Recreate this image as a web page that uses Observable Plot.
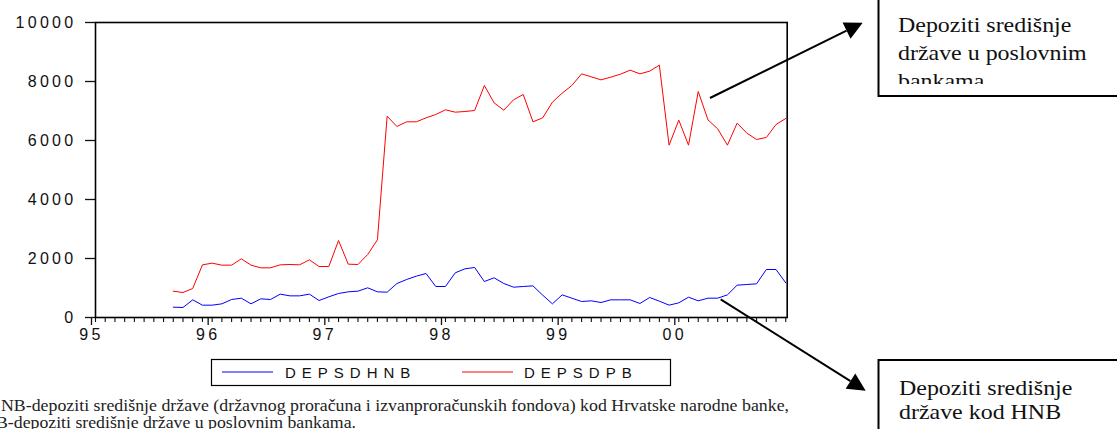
<!DOCTYPE html>
<html>
<head>
<meta charset="utf-8">
<script src="https://cdn.jsdelivr.net/npm/d3@7"></script>
<script src="https://cdn.jsdelivr.net/npm/@observablehq/plot@0.6"></script>
<style>
  html, body { margin: 0; padding: 0; background: #fff; overflow: hidden; }
  #chart svg { display: block; }
</style>
</head>
<body>
<div id="chart"></div>
<script>
// ---- data (monthly, 1995M09 .. 2000M12) ----
const startYear = 1995;
const firstMonth = 9; // September 1995
const DEPSDHNB = [350, 339, 599, 418, 418, 463, 610, 655, 463, 633,
                  610, 791, 734, 734, 791, 576, 701, 814, 870, 893,
                  1006, 870, 859, 1150, 1288, 1401, 1492, 1051, 1051, 1514,
                  1650, 1695, 1220, 1345, 1153, 1028, 1051, 1073, 757, 463,
                  768, 655, 542, 565, 508, 599, 599, 599, 475, 678,
                  554, 418, 497, 689, 565, 655, 655, 768, 1096, 1119,
                  1141, 1627, 1627, 1175];
const DEPSDPB = [893, 847, 983, 1785, 1842, 1774, 1774, 1989, 1774, 1684,
                 1684, 1785, 1797, 1785, 1955, 1729, 1729, 2610, 1808, 1797,
                 2136, 2633, 6825, 6475, 6633, 6633, 6768, 6881, 7040, 6960,
                 6983, 7017, 7864, 7277, 7028, 7379, 7559, 6633, 6768, 7299,
                 7605, 7864, 8260, 8158, 8056, 8147, 8249, 8384, 8260, 8350,
                 8554, 5842, 6689, 5842, 7661, 6701, 6395, 5842, 6588, 6249,
                 6034, 6102, 6542, 6746];
const yearLabels = ["95", "96", "97", "98", "99", "00"];
const yTicks = [0, 2000, 4000, 6000, 8000, 10000];
const seriesNames = ["DEPSDHNB", "DEPSDPB"];
const seriesColors = ["#0000ff", "#ff0000"];
const captionLines = [
  "NB-depoziti središnje države (državnog proračuna i izvanproračunskih fondova) kod Hrvatske narodne banke,",
  "B-depoziti središnje države u poslovnim bankama."
];
const noteTop = ["Depoziti središnje", "države u poslovnim", "bankama"];
const noteBottom = ["Depoziti središnje", "države kod HNB"];

// month index (0 = 1995M01)
const idx0 = firstMonth - 1;
const rows = (arr, name) => arr.map((v, k) => ({t: idx0 + k, v, s: name}));
const dataH = rows(DEPSDHNB, seriesNames[0]);
const dataP = rows(DEPSDPB, seriesNames[1]);
const monthTicks = d3.range(0, 72);
const yearTicks = yearLabels.map((_, i) => i * 12);

const chart = Plot.plot({
  width: 1117,
  height: 429,
  marginLeft: 95,
  marginRight: 330.3,
  marginTop: 22,
  marginBottom: 112,
  x: {domain: [0, 71.15]},
  y: {domain: [0, 10000]},
  style: {fontFamily: "'Liberation Sans', Arial, sans-serif", fontSize: "16px", color: "#111", background: "#fff", overflow: "visible"},
  marks: [
    Plot.axisY({ticks: yTicks, tickSize: 10, tickPadding: 9, tickFormat: d => String(d), label: null, strokeWidth: 1.3}),
    Plot.axisX({ticks: monthTicks, tickSize: 5, tickFormat: () => "", label: null, strokeWidth: 1.1}),
    Plot.axisX({ticks: yearTicks, tickSize: 8, tickPadding: 3, tickFormat: d => yearLabels[Math.round(d / 12)], label: null, dx: -4, strokeWidth: 1.3}),
    Plot.lineY(dataH, {x: "t", y: "v", stroke: seriesColors[0], strokeWidth: 1}),
    Plot.lineY(dataP, {x: "t", y: "v", stroke: seriesColors[1], strokeWidth: 1}),
    Plot.frame({stroke: "#000", strokeWidth: 1.6})
  ]
});

document.getElementById("chart").appendChild(chart);
const svg = d3.select(chart);
svg.selectAll("text").attr("letter-spacing", 3.3);

// ---- legend ----
const lg = svg.append("g").attr("text-anchor", "start");
lg.append("rect").attr("x", 211.5).attr("y", 359.5).attr("width", 459).attr("height", 26)
  .attr("fill", "none").attr("stroke", "#000").attr("stroke-width", 1.2);
const legendPos = [[222, 273, 285], [462, 513, 524]];
seriesNames.forEach((n, i) => {
  const [a, b, tx] = legendPos[i];
  lg.append("line").attr("x1", a).attr("x2", b).attr("y1", 372).attr("y2", 372)
    .attr("stroke", seriesColors[i]).attr("stroke-width", 1);
  lg.append("text").attr("x", tx).attr("y", 377.5).attr("letter-spacing", 6)
    .attr("text-anchor", "start")
    .attr("font-family", "'Liberation Sans', Arial, sans-serif").attr("font-size", 15)
    .attr("fill", "#111").text(n);
});

// ---- arrows ----
function arrow(x1, y1, x2, y2) {
  const dx = x2 - x1, dy = y2 - y1, L = Math.hypot(dx, dy);
  const ux = dx / L, uy = dy / L, len = 18, hw = 9;
  const bx = x2 - ux * len, by = y2 - uy * len;
  svg.append("line").attr("x1", x1).attr("y1", y1).attr("x2", bx).attr("y2", by)
    .attr("stroke", "#000").attr("stroke-width", 2);
  svg.append("path")
    .attr("d", `M${x2},${y2}L${bx - uy * hw},${by + ux * hw}L${bx + uy * hw},${by - ux * hw}Z`)
    .attr("fill", "#000");
}
arrow(710, 98, 862.7, 22.7);
arrow(720.7, 299.3, 865.7, 390.7);

// ---- annotation boxes ----
const serif = "'Liberation Serif', 'Times New Roman', serif";
svg.append("rect").attr("x", 878.5).attr("y", -10).attr("width", 300).attr("height", 106)
  .attr("fill", "#fff").attr("stroke", "#000").attr("stroke-width", 2);
svg.append("rect").attr("x", 878.5).attr("y", 360).attr("width", 300).attr("height", 120)
  .attr("fill", "#fff").attr("stroke", "#000").attr("stroke-width", 2);

const defs = svg.append("defs");
defs.append("clipPath").attr("id", "clipTop").append("rect")
  .attr("x", 880).attr("y", 0).attr("width", 240).attr("height", 84);
const gTop = svg.append("g").attr("clip-path", "url(#clipTop)").attr("text-anchor", "start");
noteTop.forEach((s, i) => {
  gTop.append("text").attr("transform", `translate(898,${32 + i * 28}) scale(1.14,1)`)
    .attr("text-anchor", "start")
    .attr("font-family", serif).attr("font-size", 21).attr("fill", "#111").text(s);
});
const gBot = svg.append("g").attr("text-anchor", "start");
noteBottom.forEach((s, i) => {
  gBot.append("text").attr("transform", `translate(899,${395 + i * 23.5}) scale(1.14,1)`)
    .attr("text-anchor", "start")
    .attr("font-family", serif).attr("font-size", 21).attr("fill", "#111").text(s);
});

// ---- caption ----
const gCap = svg.append("g").attr("text-anchor", "start");
gCap.append("text").attr("x", 1).attr("y", 410.5).attr("font-family", serif).attr("font-size", 16.5)
  .attr("text-anchor", "start")
  .attr("fill", "#222").attr("textLength", 788).attr("lengthAdjust", "spacingAndGlyphs").text(captionLines[0]);
gCap.append("text").attr("x", -4).attr("y", 427.5).attr("font-family", serif).attr("font-size", 16.5)
  .attr("text-anchor", "start")
  .attr("fill", "#222").attr("textLength", 360).attr("lengthAdjust", "spacingAndGlyphs").text(captionLines[1]);
</script>
</body>
</html>
